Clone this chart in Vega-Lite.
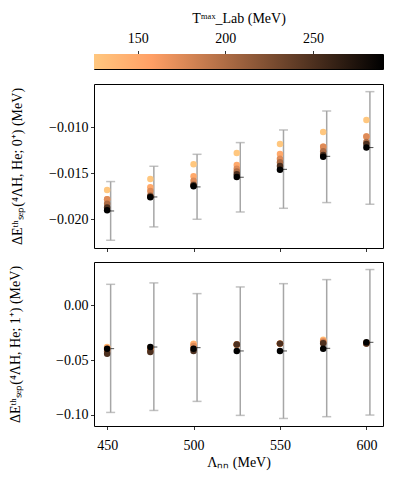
{
  "$schema": "https://vega.github.io/schema/vega-lite/v6.json",
  "padding": {"left": 8, "top": 10, "right": 5, "bottom": 5},
  "config": {
    "font": "Liberation Serif",
    "view": {"stroke": "#000000", "strokeWidth": 1},
    "axis": {
      "grid": false, "domain": false, "tickColor": "#000000", "tickSize": 3.5, "tickWidth": 0.8,
      "labelFont": "Liberation Serif", "labelFontSize": 14, "labelColor": "#000000", "labelPadding": 2.5,
      "titleFont": "Liberation Serif", "titleFontSize": 14, "titleFontWeight": "normal", "titleColor": "#000000"
    }
  },
  "datasets": {
    "pts": [
      {"panel": "top", "L": 450, "T": 125, "E": -0.0168}, {"panel": "top", "L": 450, "T": 150, "E": -0.0178}, {"panel": "top", "L": 450, "T": 175, "E": -0.0178}, {"panel": "top", "L": 450, "T": 200, "E": -0.0183}, {"panel": "top", "L": 450, "T": 250, "E": -0.0187}, {"panel": "top", "L": 450, "T": 290, "E": -0.0190},
      {"panel": "top", "L": 475, "T": 125, "E": -0.0156}, {"panel": "top", "L": 475, "T": 150, "E": -0.0165}, {"panel": "top", "L": 475, "T": 175, "E": -0.0169}, {"panel": "top", "L": 475, "T": 200, "E": -0.0174}, {"panel": "top", "L": 475, "T": 250, "E": -0.0175}, {"panel": "top", "L": 475, "T": 290, "E": -0.0176},
      {"panel": "top", "L": 500, "T": 125, "E": -0.0140}, {"panel": "top", "L": 500, "T": 150, "E": -0.0153}, {"panel": "top", "L": 500, "T": 175, "E": -0.0158}, {"panel": "top", "L": 500, "T": 200, "E": -0.0162}, {"panel": "top", "L": 500, "T": 250, "E": -0.0163}, {"panel": "top", "L": 500, "T": 290, "E": -0.0164},
      {"panel": "top", "L": 525, "T": 125, "E": -0.0128}, {"panel": "top", "L": 525, "T": 150, "E": -0.0141}, {"panel": "top", "L": 525, "T": 175, "E": -0.0145}, {"panel": "top", "L": 525, "T": 200, "E": -0.0148}, {"panel": "top", "L": 525, "T": 250, "E": -0.0151}, {"panel": "top", "L": 525, "T": 290, "E": -0.0154},
      {"panel": "top", "L": 550, "T": 125, "E": -0.0118}, {"panel": "top", "L": 550, "T": 150, "E": -0.0129}, {"panel": "top", "L": 550, "T": 175, "E": -0.0134}, {"panel": "top", "L": 550, "T": 200, "E": -0.0138}, {"panel": "top", "L": 550, "T": 250, "E": -0.0142}, {"panel": "top", "L": 550, "T": 290, "E": -0.0146},
      {"panel": "top", "L": 575, "T": 125, "E": -0.0105}, {"panel": "top", "L": 575, "T": 150, "E": -0.0121}, {"panel": "top", "L": 575, "T": 175, "E": -0.0121}, {"panel": "top", "L": 575, "T": 200, "E": -0.0126}, {"panel": "top", "L": 575, "T": 250, "E": -0.0130}, {"panel": "top", "L": 575, "T": 290, "E": -0.0132},
      {"panel": "top", "L": 600, "T": 125, "E": -0.0092}, {"panel": "top", "L": 600, "T": 150, "E": -0.0110}, {"panel": "top", "L": 600, "T": 175, "E": -0.0110}, {"panel": "top", "L": 600, "T": 200, "E": -0.0116}, {"panel": "top", "L": 600, "T": 250, "E": -0.0118}, {"panel": "top", "L": 600, "T": 290, "E": -0.0122},
      {"panel": "bot", "L": 450, "T": 125, "E": -0.0380}, {"panel": "bot", "L": 450, "T": 150, "E": -0.0385}, {"panel": "bot", "L": 450, "T": 175, "E": -0.0400}, {"panel": "bot", "L": 450, "T": 200, "E": -0.0420}, {"panel": "bot", "L": 450, "T": 250, "E": -0.0442}, {"panel": "bot", "L": 450, "T": 290, "E": -0.0395},
      {"panel": "bot", "L": 475, "T": 125, "E": -0.0385}, {"panel": "bot", "L": 475, "T": 150, "E": -0.0390}, {"panel": "bot", "L": 475, "T": 175, "E": -0.0400}, {"panel": "bot", "L": 475, "T": 200, "E": -0.0415}, {"panel": "bot", "L": 475, "T": 250, "E": -0.0425}, {"panel": "bot", "L": 475, "T": 290, "E": -0.0380},
      {"panel": "bot", "L": 500, "T": 125, "E": -0.0349}, {"panel": "bot", "L": 500, "T": 150, "E": -0.0355}, {"panel": "bot", "L": 500, "T": 175, "E": -0.0370}, {"panel": "bot", "L": 500, "T": 200, "E": -0.0395}, {"panel": "bot", "L": 500, "T": 250, "E": -0.0416}, {"panel": "bot", "L": 500, "T": 290, "E": -0.0395},
      {"panel": "bot", "L": 525, "T": 125, "E": -0.0360}, {"panel": "bot", "L": 525, "T": 150, "E": -0.0358}, {"panel": "bot", "L": 525, "T": 175, "E": -0.0356}, {"panel": "bot", "L": 525, "T": 200, "E": -0.0356}, {"panel": "bot", "L": 525, "T": 250, "E": -0.0356}, {"panel": "bot", "L": 525, "T": 290, "E": -0.0416},
      {"panel": "bot", "L": 550, "T": 125, "E": -0.0349}, {"panel": "bot", "L": 550, "T": 150, "E": -0.0349}, {"panel": "bot", "L": 550, "T": 175, "E": -0.0349}, {"panel": "bot", "L": 550, "T": 200, "E": -0.0349}, {"panel": "bot", "L": 550, "T": 250, "E": -0.0349}, {"panel": "bot", "L": 550, "T": 290, "E": -0.0416},
      {"panel": "bot", "L": 575, "T": 125, "E": -0.0313}, {"panel": "bot", "L": 575, "T": 150, "E": -0.0320}, {"panel": "bot", "L": 575, "T": 175, "E": -0.0330}, {"panel": "bot", "L": 575, "T": 200, "E": -0.0340}, {"panel": "bot", "L": 575, "T": 250, "E": -0.0345}, {"panel": "bot", "L": 575, "T": 290, "E": -0.0395},
      {"panel": "bot", "L": 600, "T": 125, "E": -0.0340}, {"panel": "bot", "L": 600, "T": 150, "E": -0.0343}, {"panel": "bot", "L": 600, "T": 175, "E": -0.0345}, {"panel": "bot", "L": 600, "T": 200, "E": -0.0347}, {"panel": "bot", "L": 600, "T": 250, "E": -0.0349}, {"panel": "bot", "L": 600, "T": 290, "E": -0.0337}
    ],
    "err": [
      {"panel": "top", "L": 450, "c": -0.01908, "lo": -0.02226, "hi": -0.01589},
      {"panel": "top", "L": 475, "c": -0.01756, "lo": -0.02081, "hi": -0.01423},
      {"panel": "top", "L": 500, "c": -0.01647, "lo": -0.01998, "hi": -0.01293},
      {"panel": "top", "L": 525, "c": -0.01542, "lo": -0.01919, "hi": -0.01166},
      {"panel": "top", "L": 550, "c": -0.01456, "lo": -0.01879, "hi": -0.01029},
      {"panel": "top", "L": 575, "c": -0.01315, "lo": -0.01817, "hi": -0.00823},
      {"panel": "top", "L": 600, "c": -0.01220, "lo": -0.01835, "hi": -0.00613},
      {"panel": "bot", "L": 450, "c": -0.0395, "lo": -0.0978, "hi": 0.0193},
      {"panel": "bot", "L": 475, "c": -0.0380, "lo": -0.0960, "hi": 0.0206},
      {"panel": "bot", "L": 500, "c": -0.0386, "lo": -0.0877, "hi": 0.0108},
      {"panel": "bot", "L": 525, "c": -0.0416, "lo": -0.1005, "hi": 0.0169},
      {"panel": "bot", "L": 550, "c": -0.0416, "lo": -0.1033, "hi": 0.0199},
      {"panel": "bot", "L": 575, "c": -0.0392, "lo": -0.1017, "hi": 0.0236},
      {"panel": "bot", "L": 600, "c": -0.0337, "lo": -0.1002, "hi": 0.0328}
    ],
    "cbar": [{"lo": 125, "hi": 290}]
  },
  "bounds": "flush",
  "spacing": 15,
  "vconcat": [
    {
      "width": 289, "height": 15,
      "data": {"name": "cbar"},
      "mark": {"type": "rect", "fill": {"gradient": "linear", "x1": 0, "y1": 0, "x2": 1, "y2": 0, "stops": [{"offset": 0, "color": "#ffc77f"}, {"offset": 0.2, "color": "#ff9f65"}, {"offset": 1, "color": "#000000"}]}},
      "encoding": {
        "x": {"field": "lo", "type": "quantitative", "scale": {"domain": [125, 290], "nice": false, "zero": false},
              "axis": {"orient": "top", "values": [150, 200, 250], "title": "Tᵐᵃˣ_Lab (MeV)", "titlePadding": 6, "labelPadding": 5.5}},
        "x2": {"field": "hi"}
      }
    },
    {
      "bounds": "flush",
      "spacing": 14,
      "vconcat": [
        {
          "width": 289, "height": 164,
          "layer": [
            {"data": {"name": "err"}, "transform": [{"filter": "datum.panel === 'top'"}],
             "mark": {"type": "rule", "color": "#a6a6a6", "strokeWidth": 1.5, "xOffset": 3.5},
             "encoding": {
               "x": {"field": "L", "type": "quantitative", "scale": {"domain": [442.4, 609.6], "nice": false, "zero": false}, "axis": {"values": [450, 500, 550, 600], "labels": false, "title": null}},
               "y": {"field": "lo", "type": "quantitative", "scale": {"domain": [-0.0231, -0.0053], "nice": false, "zero": false}, "axis": {"values": [-0.02, -0.015, -0.01], "format": ".3f", "title": "ΔEᵗʰₛₑₚ(⁴ΛH, He; 0⁺) (MeV)", "titlePadding": 24}},
               "y2": {"field": "hi"}
             }},
            {"data": {"name": "err"}, "transform": [{"filter": "datum.panel === 'top'"}],
             "mark": {"type": "tick", "orient": "horizontal", "color": "#a6a6a6", "size": 9, "thickness": 1.5, "xOffset": 3.5},
             "encoding": {
               "x": {"field": "L", "type": "quantitative"},
               "y": {"field": "lo", "type": "quantitative"}
             }},
            {"data": {"name": "err"}, "transform": [{"filter": "datum.panel === 'top'"}],
             "mark": {"type": "tick", "orient": "horizontal", "color": "#a6a6a6", "size": 9, "thickness": 1.5, "xOffset": 3.5},
             "encoding": {
               "x": {"field": "L", "type": "quantitative"},
               "y": {"field": "hi", "type": "quantitative"}
             }},
            {"data": {"name": "err"}, "transform": [{"filter": "datum.panel === 'top'"}],
             "mark": {"type": "tick", "orient": "horizontal", "color": "#000000", "size": 7, "thickness": 1, "xOffset": 3.5},
             "encoding": {
               "x": {"field": "L", "type": "quantitative"},
               "y": {"field": "c", "type": "quantitative"}
             }},
            {"data": {"name": "pts"}, "transform": [{"filter": "datum.panel === 'top'"}],
             "mark": {"type": "circle", "size": 42, "opacity": 1},
             "encoding": {
               "x": {"field": "L", "type": "quantitative"},
               "y": {"field": "E", "type": "quantitative"},
               "color": {"field": "T", "type": "quantitative", "scale": {"type": "linear", "domain": [125, 158, 290], "range": ["#ffc77f", "#ff9f65", "#000000"], "interpolate": "rgb"}, "legend": null},
               "order": {"field": "T", "type": "quantitative"}
             }}
          ]
        },
        {
          "width": 289, "height": 164,
          "layer": [
            {"data": {"name": "err"}, "transform": [{"filter": "datum.panel === 'bot'"}],
             "mark": {"type": "rule", "color": "#a6a6a6", "strokeWidth": 1.5, "xOffset": 3.5},
             "encoding": {
               "x": {"field": "L", "type": "quantitative", "scale": {"domain": [442.4, 609.6], "nice": false, "zero": false}, "axis": {"values": [450, 500, 550, 600], "title": "Λₙₙ (MeV)", "titlePadding": 3, "labelPadding": 8.5}},
               "y": {"field": "lo", "type": "quantitative", "scale": {"domain": [-0.1102, 0.0397], "nice": false, "zero": false}, "axis": {"values": [-0.1, -0.05, 0], "format": ".2f", "title": "ΔEᵗʰₛₑₚ(⁴ΛH, He; 1⁺) (MeV)", "titlePadding": 33}},
               "y2": {"field": "hi"}
             }},
            {"data": {"name": "err"}, "transform": [{"filter": "datum.panel === 'bot'"}],
             "mark": {"type": "tick", "orient": "horizontal", "color": "#a6a6a6", "size": 9, "thickness": 1.5, "xOffset": 3.5},
             "encoding": {
               "x": {"field": "L", "type": "quantitative"},
               "y": {"field": "lo", "type": "quantitative"}
             }},
            {"data": {"name": "err"}, "transform": [{"filter": "datum.panel === 'bot'"}],
             "mark": {"type": "tick", "orient": "horizontal", "color": "#a6a6a6", "size": 9, "thickness": 1.5, "xOffset": 3.5},
             "encoding": {
               "x": {"field": "L", "type": "quantitative"},
               "y": {"field": "hi", "type": "quantitative"}
             }},
            {"data": {"name": "err"}, "transform": [{"filter": "datum.panel === 'bot'"}],
             "mark": {"type": "tick", "orient": "horizontal", "color": "#000000", "size": 7, "thickness": 1, "xOffset": 3.5},
             "encoding": {
               "x": {"field": "L", "type": "quantitative"},
               "y": {"field": "c", "type": "quantitative"}
             }},
            {"data": {"name": "pts"}, "transform": [{"filter": "datum.panel === 'bot'"}],
             "mark": {"type": "circle", "size": 42, "opacity": 1},
             "encoding": {
               "x": {"field": "L", "type": "quantitative"},
               "y": {"field": "E", "type": "quantitative"},
               "color": {"field": "T", "type": "quantitative", "scale": {"type": "linear", "domain": [125, 158, 290], "range": ["#ffc77f", "#ff9f65", "#000000"], "interpolate": "rgb"}, "legend": null},
               "order": {"field": "T", "type": "quantitative"}
             }}
          ]
        }
      ]
    }
  ]
}
